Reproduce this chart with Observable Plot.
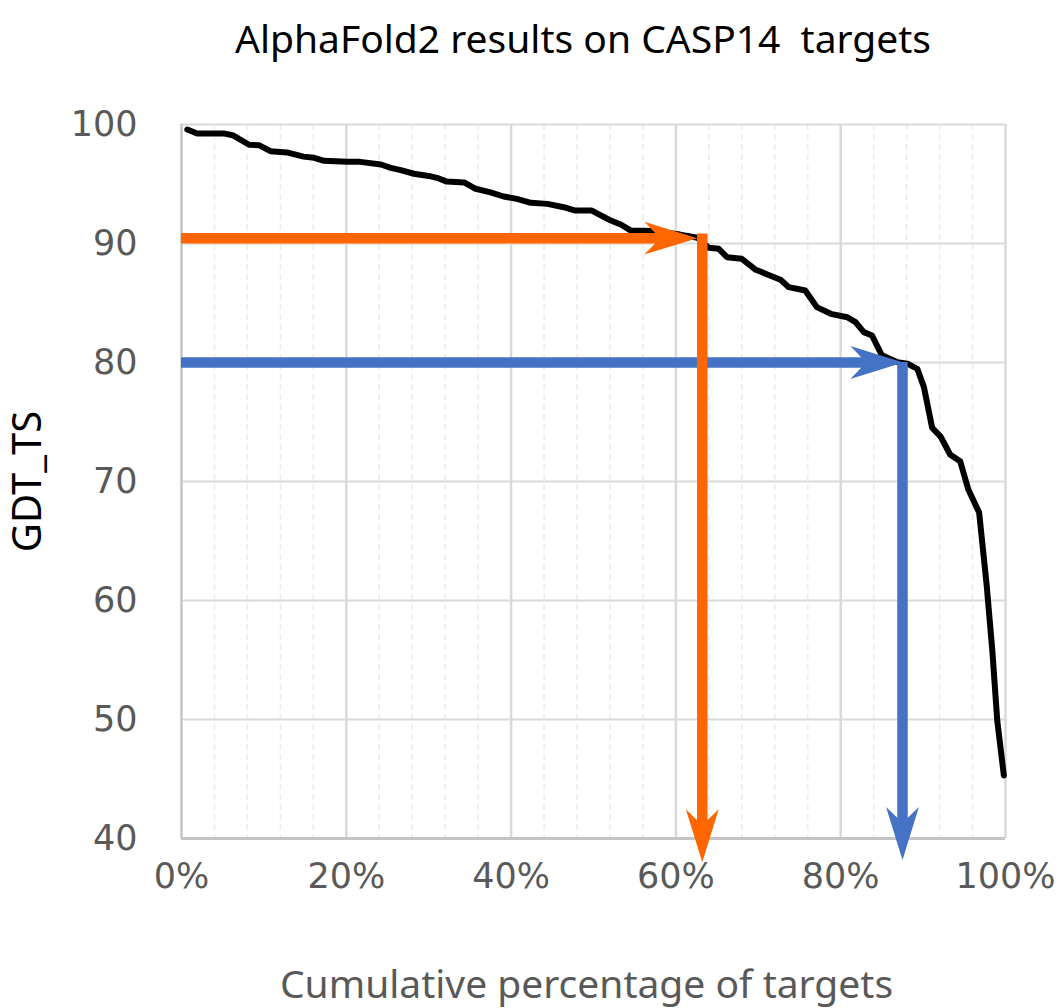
<!DOCTYPE html>
<html>
<head>
<meta charset="utf-8">
<script src="https://cdn.jsdelivr.net/npm/d3@7"></script>
<script src="https://cdn.jsdelivr.net/npm/@observablehq/plot@0.6"></script>
<style>
  html, body { margin: 0; padding: 0; background: #fff; }
  #wrap { position: relative; width: 1059px; height: 1008px; }
  #title { position: absolute; top: 0; left: 0; width: 1059px; height: 90px; }
  #title span { position: absolute; left: 583px; top: 11px; transform: translateX(-50%);
    font-family: "Noto Sans", sans-serif; font-size: 39px; color: #000; white-space: pre; }
  #chart { position: absolute; top: 90px; left: 0; }
</style>
</head>
<body>
<div id="wrap">
  <div id="title"><span>AlphaFold2 results on CASP14  targets</span></div>
  <div id="chart"></div>
</div>
<script>
// ---- data ----
const titleText = "AlphaFold2 results on CASP14  targets";
const xTitle = "Cumulative percentage of targets";
const yTitle = "GDT_TS";

// cumulative percentage of targets (%)
const curvePct = [0.7, 1.9, 5.1, 6.2, 8.2, 9.4, 10.8, 12.8, 14.8, 16.1, 17.3, 20.1, 21.7, 24.2, 25.4, 26.6,
  28.2, 30.0, 31.0, 32.2, 34.3, 35.7, 37.5, 39.1, 40.7, 42.4, 44.4, 46.4, 47.8, 49.8, 52.1, 53.3, 54.5,
  57.3, 60.5, 62.6, 64.0, 65.2, 66.2, 68.0, 69.7, 71.1, 72.7, 73.7, 75.7, 77.1, 78.8, 80.8, 81.8, 82.8,
  83.8, 85.0, 86.9, 88.1, 89.3, 90.1, 91.1, 92.1, 93.3, 94.5, 95.5, 96.8, 97.7, 98.4, 99.0, 99.8];
// GDT_TS values
const curveGDT = [99.58, 99.25, 99.25, 99.1, 98.3, 98.26, 97.76, 97.65, 97.3, 97.2, 96.95, 96.86, 96.86, 96.64, 96.36, 96.16,
  95.86, 95.68, 95.52, 95.2, 95.13, 94.6, 94.3, 93.95, 93.75, 93.42, 93.33, 93.05, 92.77, 92.77, 91.93, 91.6, 91.1,
  91.05, 90.75, 90.48, 89.64, 89.55, 88.85, 88.71, 87.79, 87.4, 86.95, 86.33, 86.05, 84.65, 84.09, 83.8, 83.39, 82.55,
  82.27, 80.6, 80.03, 79.9, 79.47, 77.93, 74.5, 73.8, 72.25, 71.7, 69.3, 67.4, 61.4, 55.8, 49.9, 45.3];

// arrows: horizontal level, horizontal tip, vertical position, vertical top, vertical tip
const arrowColor = ["#ff6600", "#4472c4"];
const arrowLevel = [90.45, 80.0];
const arrowTipPct = [62.6, 87.6];
const arrowDropPct = [63.2, 87.5];
const arrowDropTop = [90.8, 80.0];
const arrowDropTip = [38.0, 38.2];

// axes
const xTicks = [0, 20, 40, 60, 80, 100];
const xTickLabels = ["0%", "20%", "40%", "60%", "80%", "100%"];
const xMinorTicks = [4, 8, 12, 16, 24, 28, 32, 36, 44, 48, 52, 56, 64, 68, 72, 76, 84, 88, 92, 96];
const yTicks = [40, 50, 60, 70, 80, 90, 100];

// ---- build ----
const curve = curvePct.map((p, i) => ({pct: p, gdt: curveGDT[i]}));
const arrows = arrowColor.map((c, i) => ({
  color: c, level: arrowLevel[i], tip: arrowTipPct[i],
  drop: arrowDropPct[i], dropTop: arrowDropTop[i], dropTip: arrowDropTip[i]
}));

function arrowHead(dir) {
  return {
    draw(ctx, size) {
      const L = Math.sqrt(size / Math.PI);
      const W = L * 0.31, N = L * 0.3;
      if (dir === "right") {
        ctx.moveTo(0, 0); ctx.lineTo(-L, -W); ctx.lineTo(-L + N, 0); ctx.lineTo(-L, W); ctx.closePath();
      } else {
        ctx.moveTo(0, 0); ctx.lineTo(-W, -L); ctx.lineTo(0, -L + N); ctx.lineTo(W, -L); ctx.closePath();
      }
    }
  };
}

const chart = Plot.plot({
  width: 1059,
  height: 918,
  marginTop: 34,
  marginLeft: 181,
  marginRight: 54,
  marginBottom: 170,
  style: {fontFamily: "DejaVu Sans, sans-serif", fontSize: "35px", color: "#595959", background: "white", overflow: "visible"},
  color: {type: "identity"},
  x: {domain: [0, 100], ticks: xTicks, tickSize: 0, tickPadding: 25,
      tickFormat: d => xTickLabels[xTicks.indexOf(d)], label: null},
  y: {domain: [40, 100], ticks: yTicks, tickSize: 0, tickPadding: 44, label: null},
  marks: [
    Plot.ruleX(xMinorTicks, {stroke: "#ebebeb", strokeWidth: 1.5, strokeDasharray: "6,4"}),
    Plot.ruleX(xTicks, {stroke: "#d9d9d9", strokeWidth: 2.5}),
    Plot.ruleY(yTicks, {stroke: "#d9d9d9", strokeWidth: 2}),
    Plot.ruleX([0], {stroke: "#c4c4c4", strokeWidth: 2}),
    Plot.ruleY([40], {stroke: "#c4c4c4", strokeWidth: 3}),
    Plot.line(curve, {x: "pct", y: "gdt", stroke: "#000", strokeWidth: 6, strokeLinejoin: "round", strokeLinecap: "round"}),
    Plot.ruleY(arrows, {y: "level", x1: 0, x2: "tip", stroke: "color", strokeWidth: 10.5, insetRight: 22}),
    Plot.ruleX(arrows, {x: "drop", y1: "dropTop", y2: "dropTip", stroke: "color", strokeWidth: 10.5, insetBottom: 22}),
    Plot.dot(arrows, {x: "tip", y: "level", symbol: arrowHead("right"), r: 53, fill: "color", stroke: "none"}),
    Plot.dot(arrows, {x: "drop", y: "dropTip", symbol: arrowHead("down"), r: 53, fill: "color", stroke: "none"}),
    Plot.text([xTitle], {frameAnchor: "bottom", dx: -7, dy: 147, text: d => d, fill: "#595959",
      fontFamily: "Noto Sans, sans-serif", fontSize: 39, textAnchor: "middle", lineAnchor: "middle"}),
    Plot.text([yTitle], {frameAnchor: "left", dx: -153, rotate: -90, text: d => d, fill: "#000",
      fontFamily: "Noto Sans, sans-serif", fontSize: 40, textAnchor: "middle", lineAnchor: "middle"})
  ]
});
document.getElementById("chart").appendChild(chart);
</script>
</body>
</html>
